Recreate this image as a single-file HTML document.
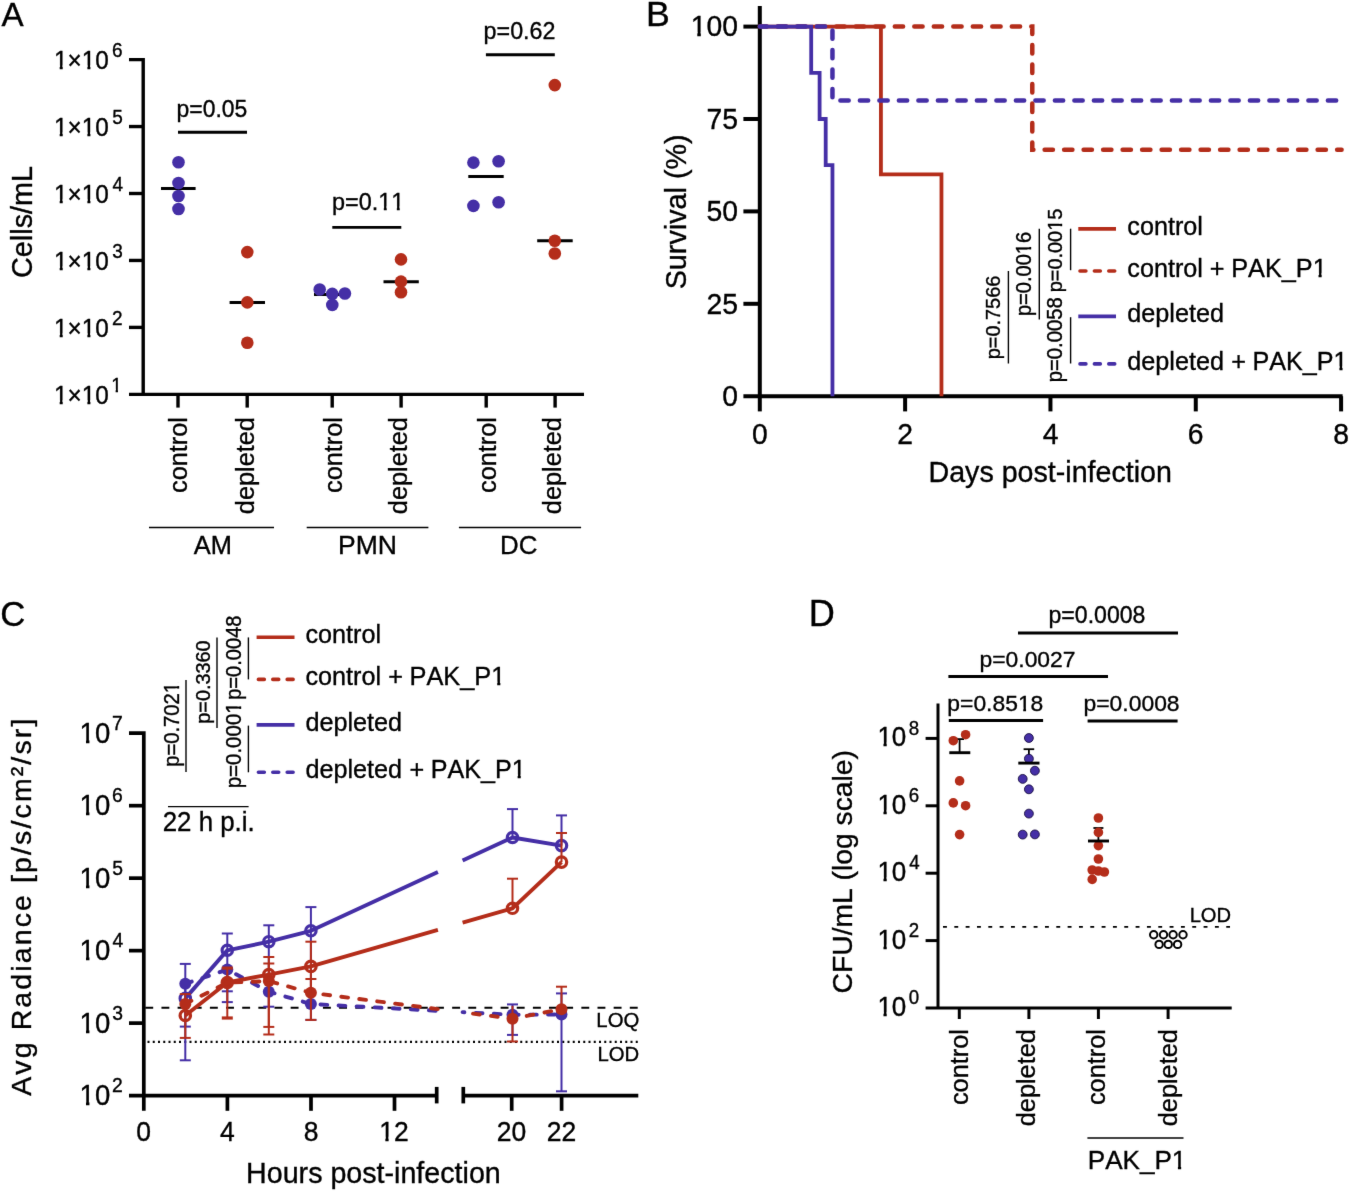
<!DOCTYPE html>
<html><head><meta charset="utf-8"><title>Figure</title>
<style>
html,body{margin:0;padding:0;background:#fff;}
svg{display:block;}
text{font-family:"Liberation Sans",sans-serif;font-kerning:none;stroke:#000;stroke-width:0.35px;}
</style></head>
<body>
<svg width="1350" height="1191" viewBox="0 0 1350 1191">
<defs><filter id="soft" color-interpolation-filters="sRGB" x="0" y="0" width="1350" height="1191" filterUnits="userSpaceOnUse"><feConvolveMatrix order="3" kernelMatrix="0.00524 0.06192 0.00524 0.06192 0.73137 0.06192 0.00524 0.06192 0.00524" edgeMode="duplicate"/></filter></defs>
<rect width="1350" height="1191" fill="#fff"/>
<g filter="url(#soft)">
<rect width="1350" height="1191" fill="#fff"/>
<g transform="translate(1.54,26.40)"><text font-size="33.18" fill="#000">A</text></g>
<path d="M129,59.6 H143.2 V394.35" fill="none" stroke="#000" stroke-width="3.4"/>
<line x1="129.00" y1="394.35" x2="584.00" y2="394.35" stroke="#000" stroke-width="3.4"/>
<line x1="129.00" y1="126.55" x2="143.20" y2="126.55" stroke="#000" stroke-width="3.4"/>
<line x1="129.00" y1="193.50" x2="143.20" y2="193.50" stroke="#000" stroke-width="3.4"/>
<line x1="129.00" y1="260.45" x2="143.20" y2="260.45" stroke="#000" stroke-width="3.4"/>
<line x1="129.00" y1="327.40" x2="143.20" y2="327.40" stroke="#000" stroke-width="3.4"/>
<g transform="translate(54.01,69.00) scale(1,1.06)"><text font-size="24.30" fill="#000">1×10</text><rect x="0.36" y="-3.56" width="5.32" height="5.34" fill="#fff"/><rect x="8.70" y="-3.56" width="4.71" height="5.34" fill="#fff"/><rect x="28.06" y="-3.56" width="5.32" height="5.34" fill="#fff"/><rect x="36.40" y="-3.56" width="4.71" height="5.34" fill="#fff"/></g>
<g transform="translate(112.04,57.10) scale(1,1.06)"><text font-size="19.00" fill="#000">6</text></g>
<g transform="translate(54.01,135.95) scale(1,1.06)"><text font-size="24.30" fill="#000">1×10</text><rect x="0.36" y="-3.56" width="5.32" height="5.34" fill="#fff"/><rect x="8.70" y="-3.56" width="4.71" height="5.34" fill="#fff"/><rect x="28.06" y="-3.56" width="5.32" height="5.34" fill="#fff"/><rect x="36.40" y="-3.56" width="4.71" height="5.34" fill="#fff"/></g>
<g transform="translate(112.24,124.05) scale(1,1.06)"><text font-size="19.00" fill="#000">5</text></g>
<g transform="translate(54.01,202.90) scale(1,1.06)"><text font-size="24.30" fill="#000">1×10</text><rect x="0.36" y="-3.56" width="5.32" height="5.34" fill="#fff"/><rect x="8.70" y="-3.56" width="4.71" height="5.34" fill="#fff"/><rect x="28.06" y="-3.56" width="5.32" height="5.34" fill="#fff"/><rect x="36.40" y="-3.56" width="4.71" height="5.34" fill="#fff"/></g>
<g transform="translate(112.56,191.00) scale(1,1.06)"><text font-size="19.00" fill="#000">4</text></g>
<g transform="translate(54.01,269.85) scale(1,1.06)"><text font-size="24.30" fill="#000">1×10</text><rect x="0.36" y="-3.56" width="5.32" height="5.34" fill="#fff"/><rect x="8.70" y="-3.56" width="4.71" height="5.34" fill="#fff"/><rect x="28.06" y="-3.56" width="5.32" height="5.34" fill="#fff"/><rect x="36.40" y="-3.56" width="4.71" height="5.34" fill="#fff"/></g>
<g transform="translate(112.28,257.95) scale(1,1.06)"><text font-size="19.00" fill="#000">3</text></g>
<g transform="translate(54.01,336.80) scale(1,1.06)"><text font-size="24.30" fill="#000">1×10</text><rect x="0.36" y="-3.56" width="5.32" height="5.34" fill="#fff"/><rect x="8.70" y="-3.56" width="4.71" height="5.34" fill="#fff"/><rect x="28.06" y="-3.56" width="5.32" height="5.34" fill="#fff"/><rect x="36.40" y="-3.56" width="4.71" height="5.34" fill="#fff"/></g>
<g transform="translate(112.04,324.90) scale(1,1.06)"><text font-size="19.00" fill="#000">2</text></g>
<g transform="translate(54.01,403.75) scale(1,1.06)"><text font-size="24.30" fill="#000">1×10</text><rect x="0.36" y="-3.56" width="5.32" height="5.34" fill="#fff"/><rect x="8.70" y="-3.56" width="4.71" height="5.34" fill="#fff"/><rect x="28.06" y="-3.56" width="5.32" height="5.34" fill="#fff"/><rect x="36.40" y="-3.56" width="4.71" height="5.34" fill="#fff"/></g>
<g transform="translate(111.17,391.85) scale(1,1.06)"><text font-size="19.00" fill="#000">1</text><rect x="0.28" y="-2.78" width="4.16" height="4.17" fill="#fff"/><rect x="6.80" y="-2.78" width="3.68" height="4.17" fill="#fff"/></g>
<g transform="translate(31.80,277.96) rotate(-90)"><text font-size="28.80" fill="#000">Cells/mL</text></g>
<line x1="178.00" y1="394.35" x2="178.00" y2="407.60" stroke="#000" stroke-width="3.4"/>
<g transform="translate(187.40,492.94) rotate(-90)"><text font-size="25.30" fill="#000">control</text></g>
<line x1="247.20" y1="394.35" x2="247.20" y2="407.60" stroke="#000" stroke-width="3.4"/>
<g transform="translate(253.50,514.14) rotate(-90)"><text font-size="25.30" fill="#000">depleted</text></g>
<line x1="332.20" y1="394.35" x2="332.20" y2="407.60" stroke="#000" stroke-width="3.4"/>
<g transform="translate(341.60,492.94) rotate(-90)"><text font-size="25.30" fill="#000">control</text></g>
<line x1="401.10" y1="394.35" x2="401.10" y2="407.60" stroke="#000" stroke-width="3.4"/>
<g transform="translate(407.40,514.14) rotate(-90)"><text font-size="25.30" fill="#000">depleted</text></g>
<line x1="486.20" y1="394.35" x2="486.20" y2="407.60" stroke="#000" stroke-width="3.4"/>
<g transform="translate(495.60,492.94) rotate(-90)"><text font-size="25.30" fill="#000">control</text></g>
<line x1="555.10" y1="394.35" x2="555.10" y2="407.60" stroke="#000" stroke-width="3.4"/>
<g transform="translate(561.40,514.14) rotate(-90)"><text font-size="25.30" fill="#000">depleted</text></g>
<line x1="149.00" y1="527.40" x2="274.00" y2="527.40" stroke="#000" stroke-width="1.5"/>
<line x1="306.70" y1="527.40" x2="428.40" y2="527.40" stroke="#000" stroke-width="1.5"/>
<line x1="458.90" y1="527.40" x2="581.10" y2="527.40" stroke="#000" stroke-width="1.5"/>
<g transform="translate(193.75,553.80)"><text font-size="25.42" fill="#000">AM</text></g>
<g transform="translate(338.02,553.80)"><text font-size="26.52" fill="#000">PMN</text></g>
<g transform="translate(500.08,553.80)"><text font-size="25.90" fill="#000">DC</text></g>
<g transform="translate(176.52,116.50) scale(1,1.06)"><text font-size="22.92" fill="#000">p=0.05</text></g>
<line x1="178.00" y1="132.20" x2="247.00" y2="132.20" stroke="#000" stroke-width="2.9"/>
<g transform="translate(332.09,209.60) scale(1,1.06)"><text font-size="23.43" fill="#000">p=0.11</text><rect x="46.59" y="-3.43" width="5.12" height="5.15" fill="#fff"/><rect x="54.63" y="-3.43" width="4.54" height="5.15" fill="#fff"/><rect x="59.62" y="-3.43" width="5.12" height="5.15" fill="#fff"/><rect x="67.66" y="-3.43" width="4.54" height="5.15" fill="#fff"/></g>
<line x1="332.30" y1="227.40" x2="401.30" y2="227.40" stroke="#000" stroke-width="2.9"/>
<g transform="translate(483.60,39.20) scale(1,1.06)"><text font-size="23.29" fill="#000">p=0.62</text></g>
<line x1="485.90" y1="54.80" x2="554.80" y2="54.80" stroke="#000" stroke-width="2.9"/>
<line x1="161.00" y1="188.60" x2="195.60" y2="188.60" stroke="#000" stroke-width="3.0"/>
<line x1="229.60" y1="302.40" x2="265.00" y2="302.40" stroke="#000" stroke-width="3.0"/>
<line x1="314.00" y1="294.40" x2="350.00" y2="294.40" stroke="#000" stroke-width="3.0"/>
<line x1="383.50" y1="281.80" x2="418.80" y2="281.80" stroke="#000" stroke-width="3.0"/>
<line x1="468.30" y1="176.40" x2="503.70" y2="176.40" stroke="#000" stroke-width="3.0"/>
<line x1="537.20" y1="240.80" x2="572.70" y2="240.80" stroke="#000" stroke-width="3.0"/>
<circle cx="178.50" cy="162.30" r="6.3" fill="#452FA6"/>
<circle cx="178.50" cy="183.00" r="6.3" fill="#452FA6"/>
<circle cx="178.50" cy="196.00" r="6.3" fill="#452FA6"/>
<circle cx="178.50" cy="209.00" r="6.3" fill="#452FA6"/>
<circle cx="247.30" cy="252.10" r="6.3" fill="#B42D1A"/>
<circle cx="247.30" cy="302.40" r="6.3" fill="#B42D1A"/>
<circle cx="247.30" cy="342.80" r="6.3" fill="#B42D1A"/>
<circle cx="319.70" cy="289.50" r="6.3" fill="#452FA6"/>
<circle cx="332.30" cy="293.90" r="6.3" fill="#452FA6"/>
<circle cx="344.90" cy="293.50" r="6.3" fill="#452FA6"/>
<circle cx="332.30" cy="304.90" r="6.3" fill="#452FA6"/>
<circle cx="401.00" cy="259.40" r="6.3" fill="#B42D1A"/>
<circle cx="401.00" cy="281.60" r="6.3" fill="#B42D1A"/>
<circle cx="401.00" cy="292.30" r="6.3" fill="#B42D1A"/>
<circle cx="473.40" cy="162.60" r="6.3" fill="#452FA6"/>
<circle cx="498.60" cy="161.30" r="6.3" fill="#452FA6"/>
<circle cx="473.40" cy="205.90" r="6.3" fill="#452FA6"/>
<circle cx="498.60" cy="202.20" r="6.3" fill="#452FA6"/>
<circle cx="554.80" cy="85.10" r="6.3" fill="#B42D1A"/>
<circle cx="554.80" cy="240.80" r="6.3" fill="#B42D1A"/>
<circle cx="554.80" cy="253.50" r="6.3" fill="#B42D1A"/>
<g transform="translate(646.07,26.20)"><text font-size="35.70" fill="#000">B</text></g>
<line x1="759.80" y1="6.00" x2="759.80" y2="396.20" stroke="#000" stroke-width="4.0"/>
<line x1="743.40" y1="396.20" x2="1342.60" y2="396.20" stroke="#000" stroke-width="4.0"/>
<line x1="743.40" y1="26.60" x2="759.80" y2="26.60" stroke="#000" stroke-width="4.0"/>
<line x1="743.40" y1="119.00" x2="759.80" y2="119.00" stroke="#000" stroke-width="4.0"/>
<line x1="743.40" y1="211.40" x2="759.80" y2="211.40" stroke="#000" stroke-width="4.0"/>
<line x1="743.40" y1="303.80" x2="759.80" y2="303.80" stroke="#000" stroke-width="4.0"/>
<line x1="759.80" y1="396.20" x2="759.80" y2="411.40" stroke="#000" stroke-width="4.0"/>
<line x1="905.12" y1="396.20" x2="905.12" y2="411.40" stroke="#000" stroke-width="4.0"/>
<line x1="1050.45" y1="396.20" x2="1050.45" y2="411.40" stroke="#000" stroke-width="4.0"/>
<line x1="1195.77" y1="396.20" x2="1195.77" y2="411.40" stroke="#000" stroke-width="4.0"/>
<line x1="1341.10" y1="396.20" x2="1341.10" y2="411.40" stroke="#000" stroke-width="4.0"/>
<g transform="translate(690.69,36.40) scale(1,1.06)"><text font-size="28.30" fill="#000">100</text><rect x="0.41" y="-4.15" width="6.19" height="6.22" fill="#fff"/><rect x="10.13" y="-4.15" width="5.49" height="6.22" fill="#fff"/></g>
<g transform="translate(706.51,128.80) scale(1,1.06)"><text font-size="28.30" fill="#000">75</text></g>
<g transform="translate(706.43,221.20) scale(1,1.06)"><text font-size="28.30" fill="#000">50</text></g>
<g transform="translate(706.51,313.60) scale(1,1.06)"><text font-size="28.30" fill="#000">25</text></g>
<g transform="translate(722.17,406.00) scale(1,1.06)"><text font-size="28.30" fill="#000">0</text></g>
<g transform="translate(751.93,443.60) scale(1,1.06)"><text font-size="28.30" fill="#000">0</text></g>
<g transform="translate(897.26,443.60) scale(1,1.06)"><text font-size="28.30" fill="#000">2</text></g>
<g transform="translate(1042.67,443.60) scale(1,1.06)"><text font-size="28.30" fill="#000">4</text></g>
<g transform="translate(1187.81,443.60) scale(1,1.06)"><text font-size="28.30" fill="#000">6</text></g>
<g transform="translate(1333.23,443.60) scale(1,1.06)"><text font-size="28.30" fill="#000">8</text></g>
<g transform="translate(928.55,482.40)"><text font-size="28.61" fill="#000">Days post-infection</text></g>
<g transform="translate(685.70,289.31) rotate(-90)"><text font-size="28.76" fill="#000">Survival (%)</text></g>
<path d="M759.8,26.600000000000023 H1032.28 V149.79 H1341.6" fill="none" stroke="#B42D1A" stroke-width="4.5" stroke-dasharray="8.3 11.2" stroke-linecap="round" stroke-dashoffset="1.5"/>
<path d="M759.8,26.600000000000023 H880.93 V174.44 H941.46 V396.2" fill="none" stroke="#B42D1A" stroke-width="3.8" stroke-linejoin="miter"/>
<path d="M759.8,26.600000000000023 H832.46 V100.52 H1341.6" fill="none" stroke="#452FA6" stroke-width="4.5" stroke-dasharray="8.3 11.2" stroke-linecap="round" stroke-dashoffset="1.5"/>
<path d="M759.8,26.600000000000023 H811.2 V72.80 H819.6 V119.00 H825.7 V165.20 H832.46 V396.2" fill="none" stroke="#452FA6" stroke-width="3.8"/>
<line x1="1078.30" y1="228.90" x2="1116.00" y2="228.90" stroke="#B42D1A" stroke-width="3.6"/>
<g transform="translate(1127.33,235.10)"><text font-size="25.20" fill="#000">control</text></g>
<path d="M1080.0,271.0 H1115" fill="none" stroke="#B42D1A" stroke-width="3.6" stroke-dasharray="5.9 8.5" stroke-linecap="round"/>
<g transform="translate(1127.33,276.60)"><text font-size="25.20" fill="#000">control</text></g>
<g transform="translate(1209.87,276.60)"><text font-size="25.20" fill="#000">+</text></g>
<g transform="translate(1231.23,276.60)"><text font-size="25.25" fill="#000">PAK_P1</text><rect x="81.77" y="-3.70" width="5.52" height="5.55" fill="#fff"/><rect x="90.43" y="-3.70" width="4.89" height="5.55" fill="#fff"/></g>
<line x1="1078.30" y1="316.40" x2="1116.00" y2="316.40" stroke="#452FA6" stroke-width="3.6"/>
<g transform="translate(1127.34,322.40)"><text font-size="25.20" fill="#000">depleted</text></g>
<path d="M1080.0,363.9 H1115" fill="none" stroke="#452FA6" stroke-width="3.6" stroke-dasharray="5.9 8.5" stroke-linecap="round"/>
<g transform="translate(1127.34,369.70)"><text font-size="25.20" fill="#000">depleted</text></g>
<g transform="translate(1231.17,369.70)"><text font-size="25.20" fill="#000">+</text></g>
<g transform="translate(1252.54,369.70)"><text font-size="25.13" fill="#000">PAK_P1</text><rect x="81.39" y="-3.68" width="5.50" height="5.52" fill="#fff"/><rect x="90.02" y="-3.68" width="4.87" height="5.52" fill="#fff"/></g>
<g transform="translate(1000.20,359.18) rotate(-90) scale(1,1.06)"><text font-size="19.88" fill="#000">p=0.7566</text></g>
<g transform="translate(1030.50,316.09) rotate(-90) scale(1,1.06)"><text font-size="20.07" fill="#000">p=0.0016</text><rect x="62.24" y="-2.94" width="4.39" height="4.41" fill="#fff"/><rect x="69.13" y="-2.94" width="3.89" height="4.41" fill="#fff"/></g>
<g transform="translate(1062.40,292.18) rotate(-90) scale(1,1.06)"><text font-size="19.87" fill="#000">p=0.0015</text><rect x="61.61" y="-2.91" width="4.35" height="4.37" fill="#fff"/><rect x="68.43" y="-2.91" width="3.85" height="4.37" fill="#fff"/></g>
<g transform="translate(1062.40,382.31) rotate(-90) scale(1,1.06)"><text font-size="20.26" fill="#000">p=0.0058</text></g>
<line x1="1008.40" y1="271.00" x2="1008.40" y2="363.50" stroke="#000" stroke-width="1.4"/>
<line x1="1039.30" y1="228.70" x2="1039.30" y2="319.60" stroke="#000" stroke-width="1.4"/>
<line x1="1070.60" y1="228.70" x2="1070.60" y2="270.20" stroke="#000" stroke-width="1.4"/>
<line x1="1070.60" y1="317.20" x2="1070.60" y2="363.50" stroke="#000" stroke-width="1.4"/>
<g transform="translate(0.24,626.00)"><text font-size="34.74" fill="#000">C</text></g>
<path d="M129,733.2 H143.8 V1110.8" fill="none" stroke="#000" stroke-width="3.7"/>
<line x1="129.00" y1="1095.60" x2="436.70" y2="1095.60" stroke="#000" stroke-width="3.7"/>
<line x1="463.30" y1="1095.60" x2="638.30" y2="1095.60" stroke="#000" stroke-width="3.7"/>
<line x1="436.70" y1="1086.90" x2="436.70" y2="1103.40" stroke="#000" stroke-width="3.7"/>
<line x1="463.30" y1="1086.90" x2="463.30" y2="1103.40" stroke="#000" stroke-width="3.7"/>
<line x1="129.00" y1="805.68" x2="143.80" y2="805.68" stroke="#000" stroke-width="3.7"/>
<line x1="129.00" y1="878.16" x2="143.80" y2="878.16" stroke="#000" stroke-width="3.7"/>
<line x1="129.00" y1="950.64" x2="143.80" y2="950.64" stroke="#000" stroke-width="3.7"/>
<line x1="129.00" y1="1023.12" x2="143.80" y2="1023.12" stroke="#000" stroke-width="3.7"/>
<g transform="translate(79.59,743.00) scale(1,1.06)"><text font-size="27.50" fill="#000">10</text><rect x="0.40" y="-4.03" width="6.02" height="6.04" fill="#fff"/><rect x="9.84" y="-4.03" width="5.33" height="6.04" fill="#fff"/></g>
<g transform="translate(112.01,729.90) scale(1,1.06)"><text font-size="19.30" fill="#000">7</text></g>
<g transform="translate(79.59,815.48) scale(1,1.06)"><text font-size="27.50" fill="#000">10</text><rect x="0.40" y="-4.03" width="6.02" height="6.04" fill="#fff"/><rect x="9.84" y="-4.03" width="5.33" height="6.04" fill="#fff"/></g>
<g transform="translate(112.02,802.38) scale(1,1.06)"><text font-size="19.30" fill="#000">6</text></g>
<g transform="translate(79.59,887.96) scale(1,1.06)"><text font-size="27.50" fill="#000">10</text><rect x="0.40" y="-4.03" width="6.02" height="6.04" fill="#fff"/><rect x="9.84" y="-4.03" width="5.33" height="6.04" fill="#fff"/></g>
<g transform="translate(112.23,874.86) scale(1,1.06)"><text font-size="19.30" fill="#000">5</text></g>
<g transform="translate(79.59,960.44) scale(1,1.06)"><text font-size="27.50" fill="#000">10</text><rect x="0.40" y="-4.03" width="6.02" height="6.04" fill="#fff"/><rect x="9.84" y="-4.03" width="5.33" height="6.04" fill="#fff"/></g>
<g transform="translate(112.56,947.34) scale(1,1.06)"><text font-size="19.30" fill="#000">4</text></g>
<g transform="translate(79.59,1032.92) scale(1,1.06)"><text font-size="27.50" fill="#000">10</text><rect x="0.40" y="-4.03" width="6.02" height="6.04" fill="#fff"/><rect x="9.84" y="-4.03" width="5.33" height="6.04" fill="#fff"/></g>
<g transform="translate(112.26,1019.82) scale(1,1.06)"><text font-size="19.30" fill="#000">3</text></g>
<g transform="translate(79.59,1105.40) scale(1,1.06)"><text font-size="27.50" fill="#000">10</text><rect x="0.40" y="-4.03" width="6.02" height="6.04" fill="#fff"/><rect x="9.84" y="-4.03" width="5.33" height="6.04" fill="#fff"/></g>
<g transform="translate(112.03,1092.30) scale(1,1.06)"><text font-size="19.30" fill="#000">2</text></g>
<g transform="translate(136.23,1140.80) scale(1,1.06)"><text font-size="26.50" fill="#000">0</text></g>
<line x1="227.40" y1="1095.60" x2="227.40" y2="1110.80" stroke="#000" stroke-width="3.7"/>
<g transform="translate(220.12,1140.80) scale(1,1.06)"><text font-size="26.50" fill="#000">4</text></g>
<line x1="311.00" y1="1095.60" x2="311.00" y2="1110.80" stroke="#000" stroke-width="3.7"/>
<g transform="translate(303.63,1140.80) scale(1,1.06)"><text font-size="26.50" fill="#000">8</text></g>
<line x1="394.50" y1="1095.60" x2="394.50" y2="1110.80" stroke="#000" stroke-width="3.7"/>
<g transform="translate(379.15,1140.80) scale(1,1.06)"><text font-size="26.50" fill="#000">12</text><rect x="0.39" y="-3.88" width="5.80" height="5.82" fill="#fff"/><rect x="9.48" y="-3.88" width="5.14" height="5.82" fill="#fff"/></g>
<line x1="511.70" y1="1095.60" x2="511.70" y2="1110.80" stroke="#000" stroke-width="3.7"/>
<g transform="translate(496.81,1140.80) scale(1,1.06)"><text font-size="26.50" fill="#000">20</text></g>
<line x1="561.60" y1="1095.60" x2="561.60" y2="1110.80" stroke="#000" stroke-width="3.7"/>
<g transform="translate(546.86,1140.80) scale(1,1.06)"><text font-size="26.50" fill="#000">22</text></g>
<g transform="translate(246.05,1183.00)"><text font-size="28.65" fill="#000">Hours post-infection</text></g>
<g transform="translate(30.50,1095.86) rotate(-90)"><text font-size="28.50" fill="#000" letter-spacing="2.12">Avg Radiance [p/s/cm²/sr]</text></g>
<path d="M143.8,1007.8 H638.3" fill="none" stroke="#000" stroke-width="2.0" stroke-dasharray="7.9 8.25" stroke-dashoffset="-1.5"/>
<path d="M147.5,1041.8 H638.3" fill="none" stroke="#000" stroke-width="2.2" stroke-dasharray="2 3.25"/>
<g transform="translate(596.33,1027.30)"><text font-size="20.33" fill="#000">LOQ</text></g>
<g transform="translate(597.53,1060.60)"><text font-size="20.30" fill="#000">LOD</text></g>
<line x1="256.60" y1="637.20" x2="294.50" y2="637.20" stroke="#B42D1A" stroke-width="3.6"/>
<g transform="translate(305.43,643.40)"><text font-size="25.20" fill="#000">control</text></g>
<path d="M258.4,679.4 H293.4" fill="none" stroke="#B42D1A" stroke-width="3.6" stroke-dasharray="5.9 8.5" stroke-linecap="round"/>
<g transform="translate(305.43,685.30)"><text font-size="25.20" fill="#000">control</text></g>
<g transform="translate(388.17,685.30)"><text font-size="25.20" fill="#000">+</text></g>
<g transform="translate(409.52,685.30)"><text font-size="25.36" fill="#000">PAK_P1</text><rect x="82.14" y="-3.71" width="5.55" height="5.57" fill="#fff"/><rect x="90.84" y="-3.71" width="4.92" height="5.57" fill="#fff"/></g>
<line x1="256.60" y1="724.90" x2="294.50" y2="724.90" stroke="#452FA6" stroke-width="3.6"/>
<g transform="translate(305.44,730.80)"><text font-size="25.20" fill="#000">depleted</text></g>
<path d="M258.4,772.3 H293.4" fill="none" stroke="#452FA6" stroke-width="3.6" stroke-dasharray="5.9 8.5" stroke-linecap="round"/>
<g transform="translate(305.44,778.20)"><text font-size="25.20" fill="#000">depleted</text></g>
<g transform="translate(409.47,778.20)"><text font-size="25.20" fill="#000">+</text></g>
<g transform="translate(430.84,778.20)"><text font-size="25.10" fill="#000">PAK_P1</text><rect x="81.30" y="-3.68" width="5.49" height="5.52" fill="#fff"/><rect x="89.92" y="-3.68" width="4.87" height="5.52" fill="#fff"/></g>
<g transform="translate(178.60,766.80) rotate(-90) scale(1,1.06)"><text font-size="20.18" fill="#000">p=0.7021</text><rect x="73.80" y="-2.96" width="4.41" height="4.43" fill="#fff"/><rect x="80.73" y="-2.96" width="3.91" height="4.43" fill="#fff"/></g>
<g transform="translate(209.50,723.68) rotate(-90) scale(1,1.06)"><text font-size="19.85" fill="#000">p=0.3360</text></g>
<g transform="translate(240.60,699.79) rotate(-90) scale(1,1.06)"><text font-size="20.07" fill="#000">p=0.0048</text></g>
<g transform="translate(240.60,788.32) rotate(-90) scale(1,1.06)"><text font-size="20.49" fill="#000">p=0.0001</text><rect x="74.92" y="-3.00" width="4.48" height="4.50" fill="#fff"/><rect x="81.95" y="-3.00" width="3.97" height="4.50" fill="#fff"/></g>
<line x1="186.00" y1="680.00" x2="186.00" y2="772.00" stroke="#000" stroke-width="1.4"/>
<line x1="217.00" y1="637.40" x2="217.00" y2="728.00" stroke="#000" stroke-width="1.4"/>
<line x1="248.40" y1="637.40" x2="248.40" y2="679.40" stroke="#000" stroke-width="1.4"/>
<line x1="248.40" y1="725.60" x2="248.40" y2="772.30" stroke="#000" stroke-width="1.4"/>
<line x1="168.00" y1="806.60" x2="248.60" y2="806.60" stroke="#000" stroke-width="1.4"/>
<g transform="translate(162.70,831.00) scale(1,1.04)"><text font-size="25.87" fill="#000">22 h p.i.</text></g>
<line x1="185.30" y1="963.90" x2="185.30" y2="1060.30" stroke="#452FA6" stroke-width="2.0"/>
<line x1="179.80" y1="963.90" x2="190.80" y2="963.90" stroke="#452FA6" stroke-width="2.0"/>
<line x1="179.80" y1="1060.30" x2="190.80" y2="1060.30" stroke="#452FA6" stroke-width="2.0"/>
<line x1="227.30" y1="933.50" x2="227.30" y2="1002.10" stroke="#452FA6" stroke-width="2.0"/>
<line x1="221.80" y1="933.50" x2="232.80" y2="933.50" stroke="#452FA6" stroke-width="2.0"/>
<line x1="221.80" y1="1002.10" x2="232.80" y2="1002.10" stroke="#452FA6" stroke-width="2.0"/>
<line x1="268.80" y1="925.30" x2="268.80" y2="1006.70" stroke="#452FA6" stroke-width="2.0"/>
<line x1="263.30" y1="925.30" x2="274.30" y2="925.30" stroke="#452FA6" stroke-width="2.0"/>
<line x1="263.30" y1="1006.70" x2="274.30" y2="1006.70" stroke="#452FA6" stroke-width="2.0"/>
<line x1="310.90" y1="907.10" x2="310.90" y2="1019.90" stroke="#452FA6" stroke-width="2.0"/>
<line x1="305.40" y1="907.10" x2="316.40" y2="907.10" stroke="#452FA6" stroke-width="2.0"/>
<line x1="305.40" y1="1019.90" x2="316.40" y2="1019.90" stroke="#452FA6" stroke-width="2.0"/>
<line x1="512.50" y1="809.10" x2="512.50" y2="837.50" stroke="#452FA6" stroke-width="2.0"/>
<line x1="507.00" y1="809.10" x2="518.00" y2="809.10" stroke="#452FA6" stroke-width="2.0"/>
<line x1="561.50" y1="815.40" x2="561.50" y2="845.60" stroke="#452FA6" stroke-width="2.0"/>
<line x1="556.00" y1="815.40" x2="567.00" y2="815.40" stroke="#452FA6" stroke-width="2.0"/>
<path d="M185.30,998.40 L227.30,950.30 L268.80,941.70 L310.90,930.80 L437.90,872.02" fill="none" stroke="#452FA6" stroke-width="3.9" stroke-linejoin="round"/>
<path d="M462.60,860.59 L512.50,837.50 L561.50,845.60" fill="none" stroke="#452FA6" stroke-width="3.9" stroke-linejoin="round"/>
<circle cx="185.30" cy="998.40" r="5.2" fill="none" stroke="#452FA6" stroke-width="3.2"/>
<circle cx="227.30" cy="950.30" r="5.2" fill="none" stroke="#452FA6" stroke-width="3.2"/>
<circle cx="268.80" cy="941.70" r="5.2" fill="none" stroke="#452FA6" stroke-width="3.2"/>
<circle cx="310.90" cy="930.80" r="5.2" fill="none" stroke="#452FA6" stroke-width="3.2"/>
<circle cx="512.50" cy="837.50" r="5.2" fill="none" stroke="#452FA6" stroke-width="3.2"/>
<circle cx="561.50" cy="845.60" r="5.2" fill="none" stroke="#452FA6" stroke-width="3.2"/>
<line x1="185.30" y1="983.80" x2="185.30" y2="1026.60" stroke="#452FA6" stroke-width="2.0"/>
<line x1="179.80" y1="1026.60" x2="190.80" y2="1026.60" stroke="#452FA6" stroke-width="2.0"/>
<line x1="227.30" y1="969.60" x2="227.30" y2="991.30" stroke="#452FA6" stroke-width="2.0"/>
<line x1="221.80" y1="991.30" x2="232.80" y2="991.30" stroke="#452FA6" stroke-width="2.0"/>
<line x1="512.50" y1="1004.40" x2="512.50" y2="1034.90" stroke="#452FA6" stroke-width="2.0"/>
<line x1="507.00" y1="1004.40" x2="518.00" y2="1004.40" stroke="#452FA6" stroke-width="2.0"/>
<line x1="507.00" y1="1034.90" x2="518.00" y2="1034.90" stroke="#452FA6" stroke-width="2.0"/>
<line x1="561.50" y1="993.40" x2="561.50" y2="1091.30" stroke="#452FA6" stroke-width="2.0"/>
<line x1="556.00" y1="993.40" x2="567.00" y2="993.40" stroke="#452FA6" stroke-width="2.0"/>
<line x1="556.00" y1="1091.30" x2="567.00" y2="1091.30" stroke="#452FA6" stroke-width="2.0"/>
<path d="M185.30,983.80 L227.30,969.60 L268.80,991.70 L310.90,1004.00 L437.90,1010.80" fill="none" stroke="#452FA6" stroke-width="3.9" stroke-linejoin="round" stroke-dasharray="6.8 11.3" stroke-linecap="round" stroke-dashoffset="0.0"/>
<path d="M462.60,1012.13 L512.50,1014.80 L561.50,1014.50" fill="none" stroke="#452FA6" stroke-width="3.9" stroke-linejoin="round" stroke-dasharray="6.8 11.3" stroke-linecap="round" stroke-dashoffset="5.0"/>
<circle cx="185.30" cy="983.80" r="6.0" fill="#452FA6"/>
<circle cx="227.30" cy="969.60" r="6.0" fill="#452FA6"/>
<circle cx="268.80" cy="991.70" r="6.0" fill="#452FA6"/>
<circle cx="310.90" cy="1004.00" r="6.0" fill="#452FA6"/>
<circle cx="512.50" cy="1014.80" r="6.0" fill="#452FA6"/>
<circle cx="561.50" cy="1014.50" r="6.0" fill="#452FA6"/>
<line x1="185.30" y1="994.10" x2="185.30" y2="1037.90" stroke="#B42D1A" stroke-width="2.0"/>
<line x1="179.80" y1="994.10" x2="190.80" y2="994.10" stroke="#B42D1A" stroke-width="2.0"/>
<line x1="179.80" y1="1037.90" x2="190.80" y2="1037.90" stroke="#B42D1A" stroke-width="2.0"/>
<line x1="227.30" y1="968.10" x2="227.30" y2="1018.00" stroke="#B42D1A" stroke-width="2.0"/>
<line x1="221.80" y1="968.10" x2="232.80" y2="968.10" stroke="#B42D1A" stroke-width="3.2"/>
<line x1="221.80" y1="1018.00" x2="232.80" y2="1018.00" stroke="#B42D1A" stroke-width="3.2"/>
<line x1="268.80" y1="963.50" x2="268.80" y2="1026.90" stroke="#B42D1A" stroke-width="2.0"/>
<line x1="263.30" y1="963.50" x2="274.30" y2="963.50" stroke="#B42D1A" stroke-width="2.0"/>
<line x1="263.30" y1="1026.90" x2="274.30" y2="1026.90" stroke="#B42D1A" stroke-width="2.0"/>
<line x1="310.90" y1="979.00" x2="310.90" y2="1019.90" stroke="#B42D1A" stroke-width="2.0"/>
<line x1="305.40" y1="979.00" x2="316.40" y2="979.00" stroke="#B42D1A" stroke-width="2.0"/>
<line x1="305.40" y1="1019.90" x2="316.40" y2="1019.90" stroke="#B42D1A" stroke-width="2.0"/>
<line x1="512.50" y1="1005.90" x2="512.50" y2="1041.50" stroke="#B42D1A" stroke-width="2.0"/>
<line x1="507.00" y1="1041.50" x2="518.00" y2="1041.50" stroke="#B42D1A" stroke-width="2.0"/>
<line x1="561.50" y1="986.70" x2="561.50" y2="1009.20" stroke="#B42D1A" stroke-width="2.0"/>
<line x1="556.00" y1="986.70" x2="567.00" y2="986.70" stroke="#B42D1A" stroke-width="2.0"/>
<path d="M185.30,1003.90 L227.30,982.70 L268.80,981.10 L310.90,992.80 L437.90,1009.12" fill="none" stroke="#B42D1A" stroke-width="3.9" stroke-linejoin="round" stroke-dasharray="6.8 11.3" stroke-linecap="round" stroke-dashoffset="0.0"/>
<path d="M462.60,1012.29 L512.50,1018.70 L561.50,1009.20" fill="none" stroke="#B42D1A" stroke-width="3.9" stroke-linejoin="round" stroke-dasharray="6.8 11.3" stroke-linecap="round" stroke-dashoffset="7.6"/>
<circle cx="185.30" cy="1003.90" r="6.0" fill="#B42D1A"/>
<circle cx="227.30" cy="982.70" r="6.0" fill="#B42D1A"/>
<circle cx="268.80" cy="981.10" r="6.0" fill="#B42D1A"/>
<circle cx="310.90" cy="992.80" r="6.0" fill="#B42D1A"/>
<circle cx="512.50" cy="1018.70" r="6.0" fill="#B42D1A"/>
<circle cx="561.50" cy="1009.20" r="6.0" fill="#B42D1A"/>
<line x1="268.80" y1="957.00" x2="268.80" y2="1034.50" stroke="#B42D1A" stroke-width="2.0"/>
<line x1="263.30" y1="957.00" x2="274.30" y2="957.00" stroke="#B42D1A" stroke-width="2.0"/>
<line x1="263.30" y1="1034.50" x2="274.30" y2="1034.50" stroke="#B42D1A" stroke-width="2.0"/>
<line x1="310.90" y1="941.70" x2="310.90" y2="992.80" stroke="#B42D1A" stroke-width="2.0"/>
<line x1="305.40" y1="941.70" x2="316.40" y2="941.70" stroke="#B42D1A" stroke-width="2.0"/>
<line x1="512.50" y1="878.70" x2="512.50" y2="908.30" stroke="#B42D1A" stroke-width="2.0"/>
<line x1="507.00" y1="878.70" x2="518.00" y2="878.70" stroke="#B42D1A" stroke-width="2.0"/>
<line x1="561.50" y1="833.00" x2="561.50" y2="862.10" stroke="#B42D1A" stroke-width="2.0"/>
<line x1="556.00" y1="833.00" x2="567.00" y2="833.00" stroke="#B42D1A" stroke-width="2.0"/>
<path d="M185.30,1015.50 L227.30,982.50 L268.80,974.60 L310.90,966.40 L437.90,929.80" fill="none" stroke="#B42D1A" stroke-width="3.9" stroke-linejoin="round"/>
<path d="M462.60,922.68 L512.50,908.30 L561.50,862.10" fill="none" stroke="#B42D1A" stroke-width="3.9" stroke-linejoin="round"/>
<circle cx="185.30" cy="1015.50" r="5.2" fill="none" stroke="#B42D1A" stroke-width="3.2"/>
<circle cx="227.30" cy="982.50" r="5.2" fill="none" stroke="#B42D1A" stroke-width="3.2"/>
<circle cx="268.80" cy="974.60" r="5.2" fill="none" stroke="#B42D1A" stroke-width="3.2"/>
<circle cx="310.90" cy="966.40" r="5.2" fill="none" stroke="#B42D1A" stroke-width="3.2"/>
<circle cx="512.50" cy="908.30" r="5.2" fill="none" stroke="#B42D1A" stroke-width="3.2"/>
<circle cx="561.50" cy="862.10" r="5.2" fill="none" stroke="#B42D1A" stroke-width="3.2"/>
<g transform="translate(808.64,626.00)"><text font-size="36.13" fill="#000">D</text></g>
<line x1="938.00" y1="703.50" x2="938.00" y2="1008.00" stroke="#000" stroke-width="3.0"/>
<line x1="925.60" y1="1008.00" x2="1231.70" y2="1008.00" stroke="#000" stroke-width="3.0"/>
<line x1="925.60" y1="738.40" x2="938.00" y2="738.40" stroke="#000" stroke-width="3.0"/>
<line x1="925.60" y1="805.80" x2="938.00" y2="805.80" stroke="#000" stroke-width="3.0"/>
<line x1="925.60" y1="873.20" x2="938.00" y2="873.20" stroke="#000" stroke-width="3.0"/>
<line x1="925.60" y1="940.60" x2="938.00" y2="940.60" stroke="#000" stroke-width="3.0"/>
<g transform="translate(877.40,746.40) scale(1,1.06)"><text font-size="26.00" fill="#000">10</text><rect x="0.38" y="-3.81" width="5.69" height="5.71" fill="#fff"/><rect x="9.31" y="-3.81" width="5.04" height="5.71" fill="#fff"/></g>
<g transform="translate(908.79,734.50) scale(1,1.06)"><text font-size="18.70" fill="#000">8</text></g>
<g transform="translate(877.40,813.80) scale(1,1.06)"><text font-size="26.00" fill="#000">10</text><rect x="0.38" y="-3.81" width="5.69" height="5.71" fill="#fff"/><rect x="9.31" y="-3.81" width="5.04" height="5.71" fill="#fff"/></g>
<g transform="translate(908.65,801.90) scale(1,1.06)"><text font-size="18.70" fill="#000">6</text></g>
<g transform="translate(877.40,881.20) scale(1,1.06)"><text font-size="26.00" fill="#000">10</text><rect x="0.38" y="-3.81" width="5.69" height="5.71" fill="#fff"/><rect x="9.31" y="-3.81" width="5.04" height="5.71" fill="#fff"/></g>
<g transform="translate(909.17,869.30) scale(1,1.06)"><text font-size="18.70" fill="#000">4</text></g>
<g transform="translate(877.40,948.60) scale(1,1.06)"><text font-size="26.00" fill="#000">10</text><rect x="0.38" y="-3.81" width="5.69" height="5.71" fill="#fff"/><rect x="9.31" y="-3.81" width="5.04" height="5.71" fill="#fff"/></g>
<g transform="translate(908.66,936.70) scale(1,1.06)"><text font-size="18.70" fill="#000">2</text></g>
<g transform="translate(877.40,1016.00) scale(1,1.06)"><text font-size="26.00" fill="#000">10</text><rect x="0.38" y="-3.81" width="5.69" height="5.71" fill="#fff"/><rect x="9.31" y="-3.81" width="5.04" height="5.71" fill="#fff"/></g>
<g transform="translate(908.87,1004.10) scale(1,1.06)"><text font-size="18.70" fill="#000">0</text></g>
<line x1="959.30" y1="1008.00" x2="959.30" y2="1019.00" stroke="#000" stroke-width="3.0"/>
<g transform="translate(968.40,1105.04) rotate(-90)"><text font-size="25.30" fill="#000">control</text></g>
<line x1="1028.90" y1="1008.00" x2="1028.90" y2="1019.00" stroke="#000" stroke-width="3.0"/>
<g transform="translate(1035.10,1126.24) rotate(-90)"><text font-size="25.30" fill="#000">depleted</text></g>
<line x1="1098.40" y1="1008.00" x2="1098.40" y2="1019.00" stroke="#000" stroke-width="3.0"/>
<g transform="translate(1104.90,1105.04) rotate(-90)"><text font-size="25.30" fill="#000">control</text></g>
<line x1="1168.10" y1="1008.00" x2="1168.10" y2="1019.00" stroke="#000" stroke-width="3.0"/>
<g transform="translate(1177.40,1126.24) rotate(-90)"><text font-size="25.30" fill="#000">depleted</text></g>
<line x1="1087.40" y1="1138.10" x2="1183.50" y2="1138.10" stroke="#000" stroke-width="1.5"/>
<g transform="translate(1087.76,1169.40)"><text font-size="26.08" fill="#000">PAK_P1</text><rect x="84.45" y="-3.82" width="5.70" height="5.73" fill="#fff"/><rect x="93.40" y="-3.82" width="5.05" height="5.73" fill="#fff"/></g>
<g transform="translate(851.80,993.44) rotate(-90)"><text font-size="28.27" fill="#000">CFU/mL (log scale)</text></g>
<path d="M938,926.9 H1230" fill="none" stroke="#000" stroke-width="1.9" stroke-dasharray="3.9 7.43" stroke-dashoffset="-5"/>
<g transform="translate(1189.65,922.30)"><text font-size="20.14" fill="#000">LOD</text></g>
<g transform="translate(947.33,710.80)"><text font-size="22.86" fill="#000">p=0.8518</text><rect x="70.88" y="-3.35" width="5.00" height="5.02" fill="#fff"/><rect x="78.72" y="-3.35" width="4.43" height="5.02" fill="#fff"/></g>
<line x1="948.80" y1="720.50" x2="1043.10" y2="720.50" stroke="#000" stroke-width="2.9"/>
<g transform="translate(1083.53,710.60)"><text font-size="22.88" fill="#000">p=0.0008</text></g>
<line x1="1087.60" y1="721.00" x2="1177.60" y2="721.00" stroke="#000" stroke-width="2.9"/>
<g transform="translate(979.53,666.80)"><text font-size="22.87" fill="#000">p=0.0027</text></g>
<line x1="948.40" y1="676.50" x2="1108.00" y2="676.50" stroke="#000" stroke-width="2.9"/>
<g transform="translate(1048.51,623.00)"><text font-size="23.08" fill="#000">p=0.0008</text></g>
<line x1="1018.00" y1="633.00" x2="1178.00" y2="633.00" stroke="#000" stroke-width="2.9"/>
<line x1="959.60" y1="739.10" x2="959.60" y2="752.70" stroke="#000" stroke-width="1.8"/>
<line x1="955.20" y1="739.10" x2="964.00" y2="739.10" stroke="#000" stroke-width="1.8"/>
<circle cx="965.60" cy="734.70" r="4.8" fill="#B42D1A"/>
<circle cx="953.30" cy="740.70" r="4.8" fill="#B42D1A"/>
<circle cx="959.60" cy="780.90" r="4.8" fill="#B42D1A"/>
<circle cx="953.30" cy="802.90" r="4.8" fill="#B42D1A"/>
<circle cx="965.60" cy="805.70" r="4.8" fill="#B42D1A"/>
<circle cx="959.60" cy="834.60" r="4.8" fill="#B42D1A"/>
<line x1="949.30" y1="752.70" x2="970.30" y2="752.70" stroke="#000" stroke-width="2.9"/>
<line x1="1028.90" y1="749.20" x2="1028.90" y2="763.10" stroke="#000" stroke-width="1.8"/>
<line x1="1023.60" y1="749.20" x2="1034.20" y2="749.20" stroke="#000" stroke-width="1.8"/>
<circle cx="1028.90" cy="738.00" r="4.45" fill="#452FA6" stroke="#140a3c" stroke-width="0.85"/>
<circle cx="1028.90" cy="758.70" r="4.45" fill="#452FA6" stroke="#140a3c" stroke-width="0.85"/>
<circle cx="1034.90" cy="770.70" r="4.45" fill="#452FA6" stroke="#140a3c" stroke-width="0.85"/>
<circle cx="1022.70" cy="778.90" r="4.45" fill="#452FA6" stroke="#140a3c" stroke-width="0.85"/>
<circle cx="1028.90" cy="789.30" r="4.45" fill="#452FA6" stroke="#140a3c" stroke-width="0.85"/>
<circle cx="1028.90" cy="813.60" r="4.45" fill="#452FA6" stroke="#140a3c" stroke-width="0.85"/>
<circle cx="1022.70" cy="834.60" r="4.45" fill="#452FA6" stroke="#140a3c" stroke-width="0.85"/>
<circle cx="1034.90" cy="834.40" r="4.45" fill="#452FA6" stroke="#140a3c" stroke-width="0.85"/>
<line x1="1018.30" y1="763.10" x2="1039.50" y2="763.10" stroke="#000" stroke-width="2.9"/>
<line x1="1098.40" y1="828.00" x2="1098.40" y2="841.00" stroke="#000" stroke-width="1.8"/>
<line x1="1093.40" y1="828.00" x2="1103.40" y2="828.00" stroke="#000" stroke-width="1.8"/>
<circle cx="1098.40" cy="818.00" r="4.8" fill="#B42D1A"/>
<circle cx="1098.40" cy="832.40" r="4.8" fill="#B42D1A"/>
<circle cx="1098.40" cy="845.60" r="4.8" fill="#B42D1A"/>
<circle cx="1098.40" cy="859.00" r="4.8" fill="#B42D1A"/>
<circle cx="1092.20" cy="870.00" r="4.8" fill="#B42D1A"/>
<circle cx="1098.40" cy="871.00" r="4.8" fill="#B42D1A"/>
<circle cx="1104.40" cy="872.00" r="4.8" fill="#B42D1A"/>
<circle cx="1092.20" cy="879.40" r="4.8" fill="#B42D1A"/>
<line x1="1088.00" y1="841.00" x2="1109.00" y2="841.00" stroke="#000" stroke-width="2.9"/>
<circle cx="1153.70" cy="934.70" r="3.7" fill="none" stroke="#000" stroke-width="2.0"/>
<circle cx="1163.50" cy="934.70" r="3.7" fill="none" stroke="#000" stroke-width="2.0"/>
<circle cx="1173.10" cy="934.70" r="3.7" fill="none" stroke="#000" stroke-width="2.0"/>
<circle cx="1183.00" cy="934.70" r="3.7" fill="none" stroke="#000" stroke-width="2.0"/>
<circle cx="1159.10" cy="944.40" r="3.7" fill="none" stroke="#000" stroke-width="2.0"/>
<circle cx="1168.20" cy="944.40" r="3.7" fill="none" stroke="#000" stroke-width="2.0"/>
<circle cx="1177.60" cy="944.40" r="3.7" fill="none" stroke="#000" stroke-width="2.0"/>
</g>
</svg>
</body></html>
